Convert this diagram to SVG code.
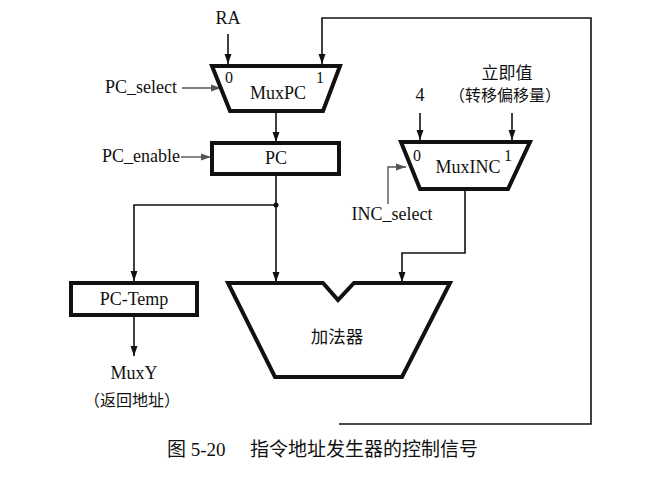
<svg xmlns="http://www.w3.org/2000/svg" width="657" height="479" viewBox="0 0 657 479">
<style>
text{font-family:"Liberation Serif","Noto Sans CJK SC",serif;font-size:18px;fill:#111}
.cjk{font-family:"Noto Sans CJK SC",sans-serif;font-size:16px}
.blk{fill:#fff;stroke:#111;stroke-width:4;stroke-linejoin:miter}
.w{fill:none;stroke:#111;stroke-width:1.6}
.g{fill:none;stroke:#555;stroke-width:1.4}
.d{font-size:16px}
</style>
<defs>
<marker id="a" viewBox="0 0 10 10" refX="10" refY="5" markerWidth="10" markerHeight="10" markerUnits="userSpaceOnUse" orient="auto"><path d="M0,1.5L10,5L0,8.5z" fill="#111"/></marker>
<marker id="ag" viewBox="0 0 10 10" refX="10" refY="5" markerWidth="10" markerHeight="10" markerUnits="userSpaceOnUse" orient="auto"><path d="M0,1.5L10,5L0,8.5z" fill="#555"/></marker>
</defs>
<rect width="657" height="479" fill="#fff"/>
<g id="connectors">
<path class="w" d="M228,34V64" marker-end="url(#a)"/>
<path class="w" d="M339,424H591V18H322V64" marker-end="url(#a)"/>
<path class="g" d="M182,88H221" marker-end="url(#ag)"/>
<path class="w" d="M276,112V142" marker-end="url(#a)"/>
<path class="g" d="M181,157H211" marker-end="url(#ag)"/>
<path class="w" d="M276,176V282" marker-end="url(#a)"/>
<path class="w" d="M276,205H134V281" marker-end="url(#a)"/>
<circle cx="276" cy="205" r="2.5" fill="#111"/>
<path class="w" d="M134,317V356" marker-end="url(#a)"/>
<path class="w" d="M420,113V140" marker-end="url(#a)"/>
<path class="w" d="M512,113V140" marker-end="url(#a)"/>
<path class="g" d="M388,204V167H406" marker-end="url(#ag)"/>
<path class="w" d="M465,190V253H402V282" marker-end="url(#a)"/>
</g>
<g id="RA"><text x="228" y="24" text-anchor="middle">RA</text></g>
<g id="MuxPC">
<path class="blk" d="M212,66H340L323,111H230Z"/>
<text x="278" y="99" text-anchor="middle">MuxPC</text>
<text class="d" x="229" y="83" text-anchor="middle">0</text>
<text class="d" x="320" y="83" text-anchor="middle">1</text>
</g>
<g id="PC_select"><text x="177" y="93" text-anchor="end">PC_select</text></g>
<g id="PC">
<rect class="blk" x="212" y="143" width="127" height="31"/>
<text x="276" y="164" text-anchor="middle">PC</text>
</g>
<g id="PC_enable"><text x="180" y="162" text-anchor="end">PC_enable</text></g>
<g id="PC-Temp">
<rect class="blk" x="71" y="283" width="126" height="32"/>
<text x="134" y="305" text-anchor="middle">PC-Temp</text>
</g>
<g id="MuxY">
<text x="134" y="379" text-anchor="middle">MuxY</text>
<text class="cjk" x="132" y="406" text-anchor="middle">（返回地址）</text>
</g>
<g id="Adder">
<path class="blk" d="M228,283H323L338,300L354,283H450L402,377H275Z"/>
<text class="cjk" x="337" y="343" text-anchor="middle" style="font-size:17.5px">加法器</text>
</g>
<g id="four"><text x="420" y="101" text-anchor="middle">4</text></g>
<g id="imm">
<text class="cjk" x="507" y="79" text-anchor="middle" style="font-size:17px">立即值</text>
<text class="cjk" x="505" y="101" text-anchor="middle">（转移偏移量）</text>
</g>
<g id="MuxINC">
<path class="blk" d="M401,142H530L508,189H420Z"/>
<text x="468" y="173" text-anchor="middle">MuxINC</text>
<text class="d" x="417" y="161" text-anchor="middle">0</text>
<text class="d" x="508" y="161" text-anchor="middle">1</text>
</g>
<g id="INC_select"><text x="392" y="220" text-anchor="middle">INC_select</text></g>
<g id="caption">
<text x="167" y="456" style="font-size:19px">图 5-20</text>
<text class="cjk" x="250" y="456" style="font-size:19px">指令地址发生器的控制信号</text>
</g>
</svg>
